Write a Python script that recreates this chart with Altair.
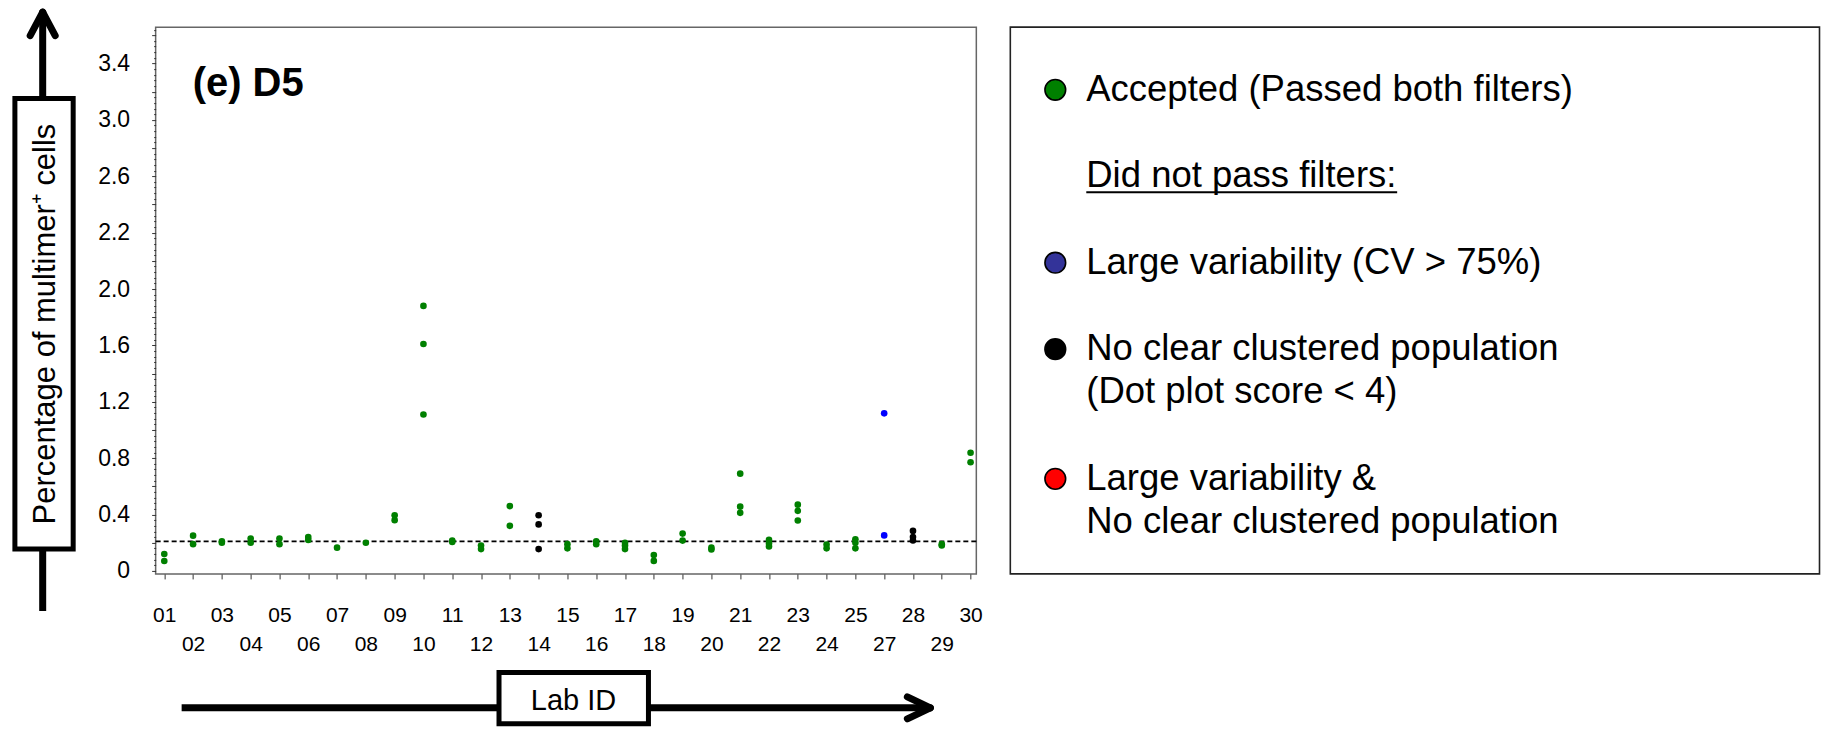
import json
import altair as alt
import pandas as pd

# ---------------- data ----------------
labs = ["01", "02", "03", "04", "05", "06", "07", "08", "09", "10",
        "11", "12", "13", "14", "15", "16", "17", "18", "19", "20",
        "21", "22", "23", "24", "25", "27", "28", "29", "30"]

lab_values = [
    [0.12, 0.07],          # 01
    [0.25, 0.19],          # 02
    [0.21, 0.20],          # 03
    [0.23, 0.20],          # 04
    [0.23, 0.19],          # 05
    [0.24, 0.22],          # 06
    [0.165],               # 07
    [0.20],                # 08
    [0.395, 0.36],         # 09
    [1.88, 1.61, 1.11],    # 10
    [0.215, 0.205],        # 11
    [0.18, 0.155],         # 12
    [0.46, 0.32],          # 13
    [0.395, 0.33, 0.155],  # 14
    [0.19, 0.16],          # 15
    [0.21, 0.19],          # 16
    [0.20, 0.18, 0.155],   # 17
    [0.113, 0.071],        # 18
    [0.265, 0.215],        # 19
    [0.165, 0.152],        # 20
    [0.69, 0.456, 0.412],  # 21
    [0.22, 0.195, 0.173],  # 22
    [0.47, 0.426, 0.358],  # 23
    [0.187, 0.16],         # 24
    [0.225, 0.20, 0.16],   # 25
    [1.118, 0.252],        # 27
    [0.284, 0.241, 0.216], # 28
    [0.19, 0.18],          # 29
    [0.838, 0.771],        # 30
]

lab_status = ["Accepted"] * 13 + ["No clear"] + ["Accepted"] * 11 + ["Large variability", "No clear", "Accepted", "Accepted"]

status_names = ["Accepted", "Large variability", "No clear"]
status_colors = ["#008000", "#0000ff", "#000000"]

threshold = 0.21

# y axis tick labels as printed on the figure
ylabel_pos = [0, 0.4, 0.8, 1.2, 1.6, 2.0, 2.4, 2.8, 3.2, 3.6]
ylabel_text = ["0", "0.4", "0.8", "1.2", "1.6", "2.0", "2.2", "2.6", "3.0", "3.4"]

legend_lines = [
    "Accepted (Passed both filters)",
    "",
    "Did not pass filters:",
    "",
    "Large variability (CV > 75%)",
    "",
    "No clear clustered population",
    "(Dot plot score < 4)",
    "",
    "Large variability &",
    "No clear clustered population",
]
legend_symbol = ["#008000", "", "", "", "#333399", "", "#000000", "", "", "#ff0000", ""]
legend_header = "Did not pass filters:"

panel_label = "(e) D5"
y_title = "Percentage of multimer\u207a cells"
x_title = "Lab ID"

FONT = "Liberation Sans"

# ---------------- tables ----------------
rows = []
for lab, vals, st in zip(labs, lab_values, lab_status):
    for v in vals:
        rows.append({"lab": lab, "value": v, "status": st})
df_points = pd.DataFrame(rows)

df_legend = pd.DataFrame({
    "line": list(range(len(legend_lines))),
    "text": legend_lines,
    "color": legend_symbol,
})
one = pd.DataFrame({"d": [0]})

# ---------------- axes ----------------
ytick_all = [round(0.04 * k, 2) for k in range(0, 97)]
ymajor = [round(0.2 * k, 2) for k in range(0, 20)]
y_label_expr = f"{json.dumps(ylabel_text)}[indexof({json.dumps(ylabel_pos)}, datum.value)] || ''"

bottom_row = labs[1::2]
x_label_expr = f"indexof({json.dumps(bottom_row)}, datum.value) >= 0 ? ['', datum.label] : datum.label"

x_enc = alt.X(
    "lab:O", sort=labs,
    scale=alt.Scale(type="point", padding=0.25, align=0.6),
    axis=alt.Axis(
        title=None, labelExpr=x_label_expr, labelAngle=0, labelFontSize=21,
        labelFont=FONT, labelColor="black", labelLineHeight=29, labelPadding=26,
        labelOverlap=False, labelFlush=False, tickSize=5, tickColor="#333",
        domain=False, grid=False,
    ),
)
y_scale = alt.Scale(domain=[-0.0213, 3.858], nice=False, zero=False)
y_axis = alt.Axis(
    title=None, values=ytick_all, labelExpr=y_label_expr, labelFontSize=23,
    labelFont=FONT, labelColor="black", labelPadding=22,
    tickSize={"condition": {"test": f"indexof({json.dumps(ymajor)}, datum.value) >= 0", "value": 4}, "value": 2},
    tickColor="#333", domain=False, grid=False, labelOverlap=False, labelFlush=False,
    labelBound=False,
)

thr = alt.Chart(one).mark_rule(color="black", strokeWidth=1.7, strokeDash=[5, 3]).encode(
    y=alt.YDatum(threshold, scale=y_scale, axis=y_axis)
)
points = alt.Chart(df_points).mark_circle(size=44, opacity=1).encode(
    x=x_enc, y=alt.Y("value:Q", scale=y_scale, axis=y_axis),
    color=alt.Color("status:N", scale=alt.Scale(domain=status_names, range=status_colors), legend=None),
)
label = alt.Chart(one).mark_text(
    text=panel_label, align="left", baseline="alphabetic", fontSize=40,
    fontWeight="bold", font=FONT, color="black"
).encode(x=alt.value(37), y=alt.value(69))


def seg(x, y, x2, y2, w=7, cap="round"):
    return alt.Chart(one).mark_rule(color="black", strokeWidth=w, strokeCap=cap).encode(
        x=alt.value(x), y=alt.value(y), x2=alt.value(x2), y2=alt.value(y2)
    )


# y-axis arrow + boxed title
y_line = seg(-113, -15, -113, 584, cap="butt")
y_arm1 = seg(-113, -15, -125.5, 8.5)
y_arm2 = seg(-113, -15, -100.5, 8.5)
y_box = alt.Chart(one).mark_rect(fill="white", stroke="black", strokeWidth=5).encode(
    x=alt.value(-140.8), x2=alt.value(-82.5), y=alt.value(71.5), y2=alt.value(522)
)
y_text = alt.Chart(one).mark_text(
    text=y_title, angle=270, align="center", baseline="middle", fontSize=31, font=FONT, color="black"
).encode(x=alt.value(-110), y=alt.value(297))

# x-axis arrow + boxed title
x_line = seg(26, 681, 775, 681, cap="butt")
x_arm1 = seg(775, 681, 752, 670)
x_arm2 = seg(775, 681, 752, 692)
x_box = alt.Chart(one).mark_rect(fill="white", stroke="black", strokeWidth=5).encode(
    x=alt.value(343.5), x2=alt.value(493), y=alt.value(645.5), y2=alt.value(697)
)
x_text = alt.Chart(one).mark_text(
    text=x_title, align="center", baseline="middle", fontSize=29, font=FONT, color="black"
).encode(x=alt.value(418), y=alt.value(674))

main = alt.layer(thr, points, label, y_line, y_box, y_arm1, y_arm2, y_text,
                 x_line, x_box, x_arm1, x_arm2, x_text)

# ---------------- legend panel ----------------
leg_y = alt.Y(
    "line:Q",
    scale=alt.Scale(domain=[-1.45, 11.2], reverse=True, nice=False, zero=False),
    axis=None,
)

leg_box = alt.Chart(one).mark_rect(fill="white", stroke="#222", strokeWidth=1.6).encode(
    x=alt.value(855), x2=alt.value(1664.5), y=alt.value(0), y2=alt.value(547)
)
leg_pts = alt.Chart(df_legend).transform_filter("datum.color != ''").mark_point(
    shape="circle", filled=True, size=430, stroke="black", strokeWidth=1.6, opacity=1
).encode(y=leg_y, x=alt.value(900), fill=alt.Fill("color:N", scale=None))
leg_txt = alt.Chart(df_legend).transform_filter("datum.text != ''").mark_text(
    align="left", baseline="middle", fontSize=36.5, font=FONT, color="black"
).encode(y=leg_y, x=alt.value(931), text="text:N")
leg_ul = alt.Chart(df_legend).transform_filter(
    f"datum.text == {json.dumps(legend_header)}"
).mark_rule(color="black", strokeWidth=2, yOffset=16).encode(
    y=leg_y, x=alt.value(931), x2=alt.value(1242)
)
legend = alt.layer(leg_box, leg_pts, leg_txt, leg_ul)

chart = alt.layer(main, legend).resolve_scale(y="independent").properties(
    width=821, height=547,
    padding={"left": 3.7, "top": 0, "right": 0, "bottom": 0},
    background="white",
).configure_view(stroke="#666", strokeWidth=1.5).configure_axis(labelOverlap=False)

chart.save("out.html", embed_options={"renderer": "svg", "actions": False})
